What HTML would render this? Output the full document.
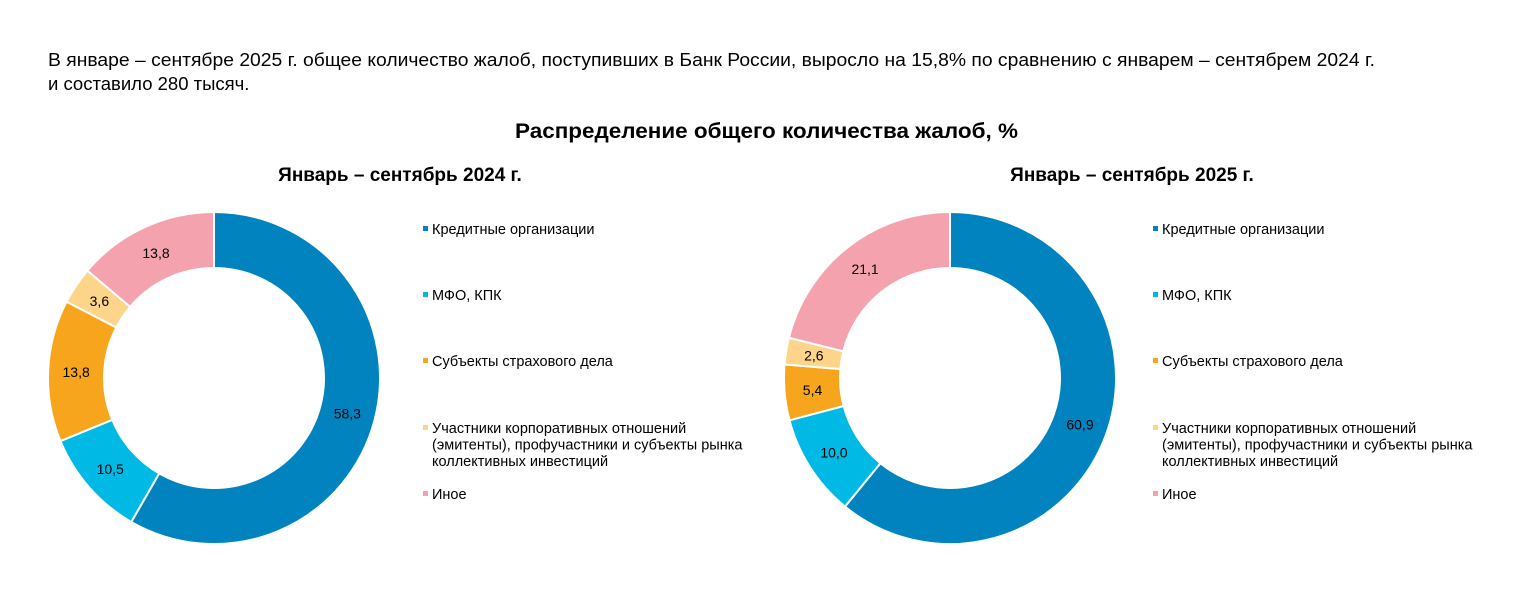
<!DOCTYPE html>
<html><head><meta charset="utf-8">
<style>
body{margin:0;background:#fff;width:1520px;height:600px;overflow:hidden;font-family:"Liberation Sans",sans-serif;}
svg text{font-family:"Liberation Sans",sans-serif;}
</style></head>
<body>
<svg id="chart" width="1520" height="600">
<text x="48" y="66" font-size="18" textLength="1327" lengthAdjust="spacingAndGlyphs" fill="#000">В январе – сентябре 2025 г. общее количество жалоб, поступивших в Банк России, выросло на 15,8% по сравнению с январем – сентябрем 2024 г.</text>
<text x="48" y="90" font-size="18.5" fill="#000">и составило 280 тысяч.</text>
<text x="515" y="138" font-size="21" font-weight="bold" textLength="503" lengthAdjust="spacingAndGlyphs">Распределение общего количества жалоб, %</text>
<text x="400" y="181" font-size="19" font-weight="bold" text-anchor="middle">Январь – сентябрь 2024 г.</text>
<text x="1132" y="181" font-size="19" font-weight="bold" text-anchor="middle">Январь – сентябрь 2025 г.</text>
<g id="donuts"></g>
<g id="legends"></g>
</svg>
<script>
const categories=["Кредитные организации","МФО, КПК","Субъекты страхового дела","Участники корпоративных отношений (эмитенты), профучастники и субъекты рынка коллективных инвестиций","Иное"];
const values2024=[58.3,10.5,13.8,3.6,13.8];
const values2025=[60.9,10.0,5.4,2.6,21.1];
const colors=["#0083be","#00b9e4","#f7a51c","#fdd58a","#f4a3ae"];
const NS="http://www.w3.org/2000/svg";
function mk(tag,attrs,parent){const e=document.createElementNS(NS,tag);for(const k in attrs)e.setAttribute(k,attrs[k]);parent.appendChild(e);return e;}
function pt(cx,cy,r,a){return [cx+r*Math.sin(a),cy-r*Math.cos(a)];}
function donut(vals,cx,cy,ro,ri,name){
  const g=mk('g',{},document.getElementById('donuts'));
  
  
  const tot=vals.reduce((a,b)=>a+b,0);let acc=0;
  vals.forEach((v,i)=>{
    const a0=acc/tot*2*Math.PI;acc+=v;const a1=acc/tot*2*Math.PI;
    const big=(a1-a0)>Math.PI?1:0;
    const p0=pt(cx,cy,ro,a0),p1=pt(cx,cy,ro,a1),q1=pt(cx,cy,ri,a1),q0=pt(cx,cy,ri,a0);
    const d=`M${p0[0]},${p0[1]}A${ro},${ro} 0 ${big} 1 ${p1[0]},${p1[1]}L${q1[0]},${q1[1]}A${ri},${ri} 0 ${big} 0 ${q0[0]},${q0[1]}Z`;
    const p=mk('path',{d:d,fill:colors[i],stroke:'#fff','stroke-width':2},g);
    
    
    const m=pt(cx,cy,(ro+ri)/2,(a0+a1)/2);
    const t=mk('text',{x:m[0],y:m[1]+5,'font-size':14,'text-anchor':'middle',fill:'#000'},g);
    t.textContent=v.toFixed(1).replace('.',',');
    
    
  });
}
donut(values2024,214,378,166,110,'donut-2024');
donut(values2025,950,378,166,110,'donut-2025');
const legendLines=[["Кредитные организации"],["МФО, КПК"],["Субъекты страхового дела"],["Участники корпоративных отношений","(эмитенты), профучастники и субъекты рынка","коллективных инвестиций"],["Иное"]];
const rowY=[234,300,366,433,499];
function legend(x,name){
  const g=mk('g',{},document.getElementById('legends'));
  
  
  legendLines.forEach((lines,i)=>{
    const r=mk('rect',{x:x,y:rowY[i]-8,width:5,height:5,fill:colors[i]},g);
    
    
    lines.forEach((l,j)=>{
      const t=mk('text',{x:x+9,y:rowY[i]+j*16.5,'font-size':14.5,fill:'#000'},g);
      t.textContent=l;
      
      
    });
  });
}
legend(423,'legend-2024');
legend(1153,'legend-2025');
</script>
</body></html>
